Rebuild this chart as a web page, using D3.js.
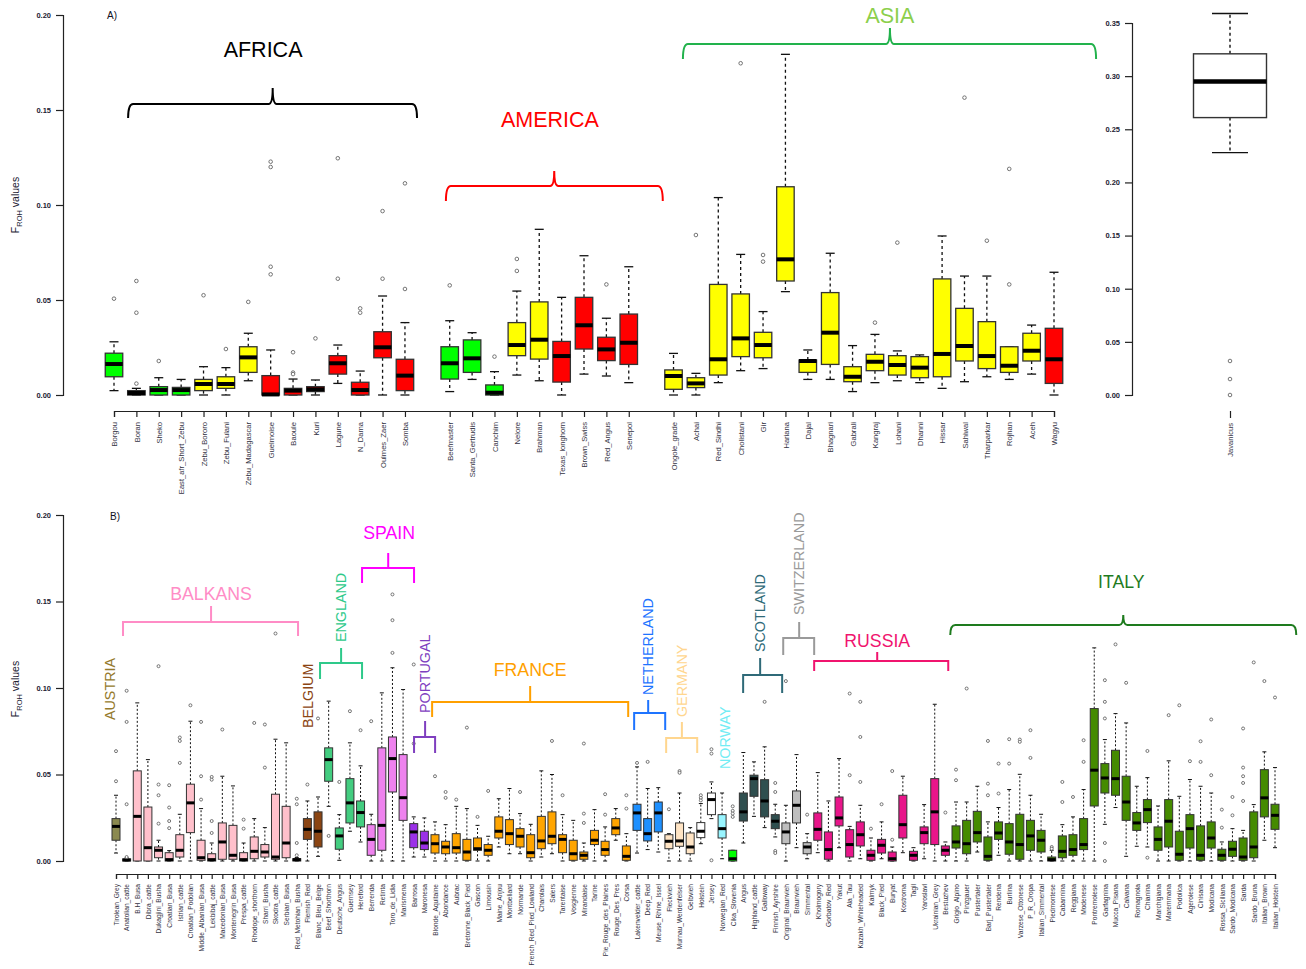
<!DOCTYPE html>
<html>
<head>
<meta charset="utf-8">
<script src="https://cdn.jsdelivr.net/npm/d3@7"></script>
<style>
  body { margin: 0; background: #fff; }
  text { font-family: "Liberation Sans", Arial, Helvetica, sans-serif; }
</style>
</head>
<body>
<svg id="fig" width="1306" height="969"></svg>
<script>
// ---------------- Panel A: world breeds ----------------
const regionsA = ["AFRICA", "AMERICA", "ASIA"];
const regionSizesA = [14, 9, 18];
const breedsA = ["Borgou","Boran","Sheko","East_afr_Short_Zebu","Zebu_Bororo","Zebu_Fulani","Zebu_Madagascar","Guelmoise","Baoule","Kuri","Lagune","N_Dama","Oulmes_Zaer","Somba",
  "Beefmaster","Santa_Gertrudis","Canchim","Nelore","Brahman","Texas_longhorn","Brown_Swiss","Red_Angus","Senepol",
  "Ongole_grade","Achai","Red_Sindhi","Cholistani","Gir","Hariana","Dajal","Bhagnari","Gabrali","Kangraj","Lohani","Dhanni","Hissar","Sahiwal","Tharparkar","Rojhan","Aceh","Wagyu"];
// ancestry class of each breed: t = taurine, i = indicine, c = composite, k = other
const classA = ["c","k","c","c","i","i","i","t","t","t","t","t","t","t",
  "c","c","c","i","i","t","t","t","t",
  "i","i","i","i","i","i","i","i","i","i","i","i","i","i","i","i","i","t"];
// five-number summaries: [lower whisker, Q1, median, Q3, upper whisker]
const statsA = [
  [0.0023,0.0096,0.0163,0.022,0.028],[0,0,0.001,0.0023,0.0035],[0,0,0.0026,0.0044,0.0091],[0,0,0.0026,0.004,0.0082],
  [0,0.0023,0.0058,0.0082,0.0149],[0,0.0035,0.0058,0.0096,0.0144],[0.0075,0.0119,0.0198,0.0254,0.0325],[0,0,0.0003,0.0102,0.0237],
  [0,0,0.0023,0.0035,0.0084],[0,0.0018,0.003,0.0044,0.0079],[0.0061,0.011,0.0167,0.0207,0.0263],[0,0,0.0026,0.0067,0.0126],
  [0,0.0196,0.0251,0.0333,0.0521],[0,0.0023,0.0102,0.0188,0.0381],
  [0.0018,0.0084,0.0167,0.0254,0.0391],[0.0082,0.0119,0.0193,0.029,0.0328],[0,0,0.0012,0.0053,0.0123],[0.0105,0.0207,0.0263,0.0381,0.0547],
  [0.0075,0.0189,0.0291,0.049,0.0872],[0,0.0068,0.0205,0.0282,0.0514],[0.011,0.0242,0.0367,0.0514,0.0733],[0.01,0.0181,0.024,0.0304,0.0404],
  [0.0065,0.0161,0.0275,0.0426,0.0675],
  [0,0.003,0.01,0.0132,0.0219],[0,0.0039,0.0061,0.0091,0.0114],[0.0065,0.0105,0.0188,0.0582,0.1039],[0.0128,0.0202,0.0298,0.0532,0.074],
  [0.0139,0.0196,0.0263,0.033,0.0439],[0.0544,0.06,0.0714,0.1096,0.1793],[0.0082,0.0119,0.0179,0.0184,0.0237],[0.0082,0.0161,0.0328,0.0539,0.0746],
  [0.0018,0.007,0.0096,0.0149,0.026],[0.0065,0.0128,0.0175,0.0214,0.0319],[0.0075,0.0105,0.0158,0.0207,0.0232],[0.0065,0.0091,0.0144,0.0202,0.0211],
  [0.0035,0.0096,0.0216,0.0611,0.0837],[0.007,0.0179,0.0258,0.0456,0.0626],[0.0096,0.0139,0.0205,0.0386,0.0626],[0.0082,0.0119,0.0154,0.0254,0.0254],
  [0.011,0.0179,0.0233,0.0325,0.0368],[0,0.0061,0.0188,0.0351,0.0646]
];
const outliersA = [
  [0.0507],[0.06,0.0433,0.006],[0.0179],[],[0.0525],[0.0242],[0.049],[0.1228,0.120,0.0675,0.0635],[0.0225,0.0118,0.011],[0.0298],
  [0.1246,0.0612],[0.0456,0.0433],[0.0968,0.0612],[0.1114,0.0558],
  [0.0577],[],[0.0202],[0.0716,0.0653],[],[],[],[0.0582],[],
  [],[0.0842],[],[0.1746],[0.0737,0.0702],[],[],[],[],[0.0381],[0.0802],[],[],[0.1565],[0.0812],[0.119,0.0582],[],[]
];
// Bos javanicus, plotted on its own scale
const outgroupName = "Javanicus";
const outgroupStats = [0.228, 0.261, 0.295, 0.321, 0.359];
const outgroupOutliers = [0.032, 0.015, 0.0];

// ---------------- Panel B: European breeds ----------------
const breedsB = ["Tirolean_Grey","Anatolian_cattle","B.H_Busa","Dibra_cattle","Dukagjini_Busha","Croatian_Busa","Istrian_cattle","Croatian_Podolian",
  "Middle_Albanian_Busa","Lekbibaj_cattle","Macedonian_Busa","Montenegrin_Busa","Prespa_cattle","Rhodope_shorthorn","Sharri_Busha","Skodra_cattle",
  "Serbian_Busa","Red_Metohian_Busha","Flemish_Red","Blanc_Bleu_Belge","Beef_Shorthorn","Deutsche_Angus","Guernsey","Hereford","Berrenda",
  "Retinta","Toro_de_Lidia","Marismena","Barrosa","Maronesa","Blonde_Aquitaine","Abondance","Aubrac","Bretonne_Black_Pied","Gascon","Limousin",
  "Maine_Anjou","Montbeliard","Normande","French_Red_Pied_Lowland","Charolais","Salers","Tarentaise","Vosgienne","Mirandaise","Tarine",
  "Pie_Rouge_des_Plaines","Rouge_Des_Pres","Corsa","Lakenvelder_cattle","Deep_Red","Meuse_Rhine_Issel","Fleckvieh","Murnau_Werdenfelser",
  "Gelbvieh","Holstein","Jersey","Norwegian_Red","Cika_Slovenia","Angus","Highland_cattle","Galloway","Finnish_Ayrshire","Original_Braunvieh",
  "Braunvieh","Simmental","Kholmogory","Gorbatov_Red","Yakut","Ala_Tau","Kazakh_Whiteheaded","Kalmyk","Black_Pied","Buryat","Kostroma","Tagil",
  "Yaroslavl","Ukrainian_Grey","Bestuzhev","Grigio_Alpino","Pinzgauer","Pustertaler","Barj_Pustertaler","Rendena","Burlina","Varzese_Ottonese",
  "P_R_Oropa","Italian_Simmental","Piedmontese","Cabannina","Reggiana","Modenese","Pontremolese","Garfagnina","Mucca_Pisana","Calvana",
  "Romagnola","Chianina","Marchigiana","Maremmana","Podolica","Agerolese","Cinisara","Modicana","Rossa_Siciliana","Sardo_Modicana","Sarda",
  "Sardo_Bruna","Italian_Brown","Italian_Holstein"];
const countryB = ["AUT",
  "BAL","BAL","BAL","BAL","BAL","BAL","BAL","BAL","BAL","BAL","BAL","BAL","BAL","BAL","BAL","BAL","BAL",
  "BEL","BEL","ENG","ENG","ENG","ENG","ESP","ESP","ESP","ESP","POR","POR",
  "FRA","FRA","FRA","FRA","FRA","FRA","FRA","FRA","FRA","FRA","FRA","FRA","FRA","FRA","FRA","FRA","FRA","FRA","FRA",
  "NLD","NLD","NLD","DEU","DEU","DEU","DAIRY","DAIRY","NOR","SVN","SCO","SCO","SCO","SCO","CHE","CHE","CHE",
  "RUS","RUS","RUS","RUS","RUS","RUS","RUS","RUS","RUS","RUS","RUS","RUS","RUS",
  "ITA","ITA","ITA","ITA","ITA","ITA","ITA","ITA","ITA","ITA","ITA","ITA","ITA","ITA","ITA","ITA",
  "ITA","ITA","ITA","ITA","ITA","ITA","ITA","ITA","ITA","ITA","ITA","ITA","ITA","ITA","ITA"];
const statsB = [
  [0.0046,0.012,0.020,0.0245,0.038],[0,0,0.0006,0.0012,0.0018],[0,0,0.0258,0.0521,0.0914],[0,0,0.0077,0.0312,0.0586],
  [0,0.0019,0.0062,0.0081,0.012],[0,0,0.0008,0.0048,0.006],[0,0.0023,0.0062,0.0152,0.027],[0,0.0164,0.0336,0.0444,0.0808],
  [0,0.0004,0.0019,0.012,0.0303],[0,0,0.0008,0.0042,0.0104],[0,0.001,0.011,0.022,0.049],[0,0.001,0.0033,0.0206,0.0434],
  [0,0,0.0008,0.0048,0.0104],[0,0.0013,0.0056,0.0139,0.0245],[0,0.0023,0.0052,0.0095,0.0193],[0,0.001,0.0023,0.0386,0.0704],
  [0,0.0019,0.0104,0.0316,0.0683],[0,0,0.0008,0.0013,0.002],[0,0.0125,0.0183,0.0245,0.0347],[0.0027,0.0081,0.0172,0.0284,0.037],
  [0.0316,0.0461,0.0586,0.0654,0.0924],[0.0004,0.0068,0.0145,0.0191,0.0268],[0.0172,0.022,0.0336,0.0476,0.0683],[0.011,0.0197,0.028,0.0347,0.055],
  [0,0.0033,0.0125,0.021,0.027],[0,0.0062,0.0206,0.0654,0.0972],[0,0.0399,0.0592,0.0717,0.1117],[0,0.0235,0.0366,0.0615,0.0991],
  [0.0023,0.0077,0.0168,0.0216,0.0255],[0.0023,0.0066,0.0104,0.0172,0.0249],[0,0.0046,0.01,0.0152,0.0226],[0,0.0042,0.0081,0.0114,0.021],
  [0,0.0046,0.0077,0.0158,0.0316],[0,0.0004,0.0052,0.0125,0.0303],[0,0.0062,0.0071,0.0133,0.0206],[0,0.0033,0.0062,0.0095,0.0143],
  [0.0081,0.0133,0.0172,0.0255,0.036],[0.0042,0.0095,0.0158,0.0239,0.0419],[0.0042,0.0081,0.0143,0.0187,0.0274],[0,0.0019,0.0048,0.0152,0.0212],
  [0.0023,0.0071,0.0116,0.0258,0.0521],[0.0042,0.01,0.0143,0.0284,0.05],[0,0.0048,0.0125,0.0152,0.0268],[0,0.0004,0.0042,0.012,0.0235],
  [0,0.001,0.0033,0.0052,0.0104],[0,0.0095,0.012,0.0177,0.0297],[0,0.0033,0.0066,0.0114,0.0197],[0.012,0.0152,0.0191,0.0245,0.0303],
  [0,0.0004,0.0027,0.0087,0.0158],[0.0046,0.0177,0.0278,0.0328,0.0544],[0.0066,0.0116,0.0158,0.0245,0.0419],[0.0052,0.0168,0.0278,0.0341,0.0424],
  [0,0.0071,0.0114,0.0152,0.0158],[0,0.0085,0.0116,0.022,0.0393],[0,0.0042,0.0081,0.0162,0.0193],[0.01,0.0135,0.0172,0.0222,0.0332],
  [0.0245,0.0268,0.0355,0.0393,0.0457],[0.0013,0.0133,0.0187,0.0268,0.0393],[0,0,0.0013,0.0062,0.0062],[0.0104,0.0231,0.0284,0.0393,0.0627],
  [0.0258,0.0374,0.0476,0.0496,0.0573],[0.0193,0.0255,0.0347,0.047,0.066],[0.0139,0.0187,0.023,0.0268,0.0328],[0,0.01,0.0168,0.022,0.0322],
  [0.0077,0.022,0.0322,0.0405,0.0615],[0.0013,0.0042,0.0081,0.0106,0.0158],[0.0048,0.012,0.0183,0.0278,0.0511],[0,0.001,0.0066,0.0168,0.0347],
  [0.0077,0.0203,0.0249,0.037,0.0592],[0,0.0023,0.0095,0.0181,0.02],[0.0013,0.0087,0.0152,0.0226,0.0322],[0,0.0004,0.0033,0.0062,0.0133],
  [0.0013,0.0046,0.0091,0.0125,0.0226],[0,0,0.0013,0.0052,0.0081],[0.0048,0.0133,0.021,0.038,0.049],[0,0.0004,0.0033,0.0056,0.0077],
  [0.0013,0.01,0.0164,0.0197,0.0326],[0,0.0095,0.0284,0.0476,0.0906],[0,0.0033,0.0062,0.0087,0.011],[0,0.0075,0.011,0.0203,0.0341],
  [0,0.0042,0.01,0.0235,0.0341],[0.0052,0.011,0.0164,0.0287,0.0432],[0,0.0004,0.0027,0.0139,0.0226],[0.0033,0.0125,0.0162,0.0226,0.0309],
  [0,0.0039,0.011,0.0216,0.0413],[0,0.001,0.0095,0.027,0.0501],[0,0.0062,0.0145,0.0235,0.038],[0,0.0052,0.012,0.0177,0.027],
  [0,0,0.0008,0.0023,0.0062],[0,0.0019,0.0056,0.0145,0.021],[0,0.0033,0.0066,0.0152,0.0255],[0,0.0066,0.0095,0.0245,0.0413],
  [0,0.0318,0.0525,0.0881,0.1232],[0.0212,0.0393,0.048,0.0563,0.0702],[0.0309,0.038,0.0476,0.064,0.0852],[0.0027,0.0235,0.0341,0.049,0.0798],
  [0.0085,0.0177,0.022,0.028,0.0432],[0.0081,0.0222,0.0297,0.0355,0.0482],[0,0.0062,0.0125,0.0197,0.0318],[0,0.0081,0.023,0.0355,0.0579],
  [0,0.0004,0.0039,0.0172,0.0374],[0,0.0075,0.0187,0.0268,0.0471],[0,0.0004,0.0033,0.0203,0.0432],[0,0.0075,0.0133,0.0226,0.0393],
  [0,0.0004,0.0033,0.0068,0.011],[0,0.0027,0.0068,0.0114,0.0187],[0,0.0004,0.0023,0.0133,0.0177],[0,0.0019,0.0081,0.0284,0.0326],
  [0.012,0.0255,0.0365,0.0528,0.0631],[0.0077,0.0183,0.0264,0.0328,0.054]
];
const outliersB = [
  [0.0635,0.0461],[0.0023,0.0328,0.0804,0.0984],[],[],[0.0442,0.038,0.0216,0.1126],[0.0438,0.0309,0.0231,0.019],[0.0714,0.0694,0.0567],[0.09],
  [0.0804,0.049,0.0355],[0.0486,0.047,0.0231,0.0162],[0.076],[],[0.0239,0.0187],[0.0798],[0.0789,0.054],[0.1315],
  [],[0.036,0.0328,0.0104,0.0033],[0.0442],[0.0824],[0.0145],[0.0457],[0.0866],[0.0756],
  [0.0808],[],[0.1203,0.1392,0.1541],[],[0.0679,0.1136],[],[0.049],[0.0399,0.0365],
  [0.0355],[0.0771],[0.0255],[0.0405],[],[],[0.0399],[],
  [],[0.0694],[0.038],[],[0.0679,0.0274,0.022],[],[0.0268,0.0386],[],
  [0.038,0.0303],[0.0567],[0.0573],[],[0.0299],[0.052,0.051],[],[0.038,0.0365,0.035],
  [0.0646,0.0621,0.0004],[],[0.0316,0.029,0.0274,0.0255],[],[],[0.092],[0.0451,0.0399,0.0058,0.0046],[0.104],
  [],[0.0268],[],[],[],[0.0968,0.0496],[0.092,0.0717,0.0457],[0.0187],
  [0.0328],[0.052,0.0123],[],[],[],[],[0.028],[0.0528,0.0467],
  [0.0997],[],[0.0694,0.0447,0.038],[0.0563,0.039],[0.0704,0.0563],[0.0702,0.0689],[0.0756,0.0596],[],
  [0.0081,0.0071],[0.0457,0.0341],[0.037],[0.0698,0.0573],[],[0.1045,0.092,0.0824,0.0104,0],[0.1252],[0.103],
  [],[0.0636,0.0019],[],[0.0843],[0.09],[0.0577],[0.0692,0.0573],[0.0818,0.0496],
  [0.0297,0.0193],[0.037,0.0264],[0.0766,0.054,0.049,0.0451,0.0347],[0.1148],[0.104],[0.0945]
];
const yTicksA = [0, 0.05, 0.10, 0.15, 0.20];
const yTicksJ = [0, 0.05, 0.10, 0.15, 0.20, 0.25, 0.30, 0.35];

// ---------------- styles ----------------
const classColour = { c: "#00ff00", k: "#000000", i: "#ffff00", t: "#ff0000" };
const countryFill = {
  AUT: "#8b8a50", BAL: "#ffc0cb", BEL: "#8b4513", ENG: "#43cd80", ESP: "#ee82ee", POR: "#9b30e8",
  FRA: "#ffa500", NLD: "#1e90ff", DEU: "#ffe4c4", DAIRY: "#ffffff", NOR: "#98f5ff", SVN: "#00ff00",
  SCO: "#2f4f4f", CHE: "#bebebe", RUS: "#e8168a", ITA: "#458b00"
};
const FONT = '"Liberation Sans", Arial, Helvetica, sans-serif';

const svg = d3.select("#fig");

// positions of panel A breeds: one empty slot between regions
const posA = [];
{
  let p = 0;
  regionSizesA.forEach((n, r) => { if (r > 0) p += 1; for (let k = 0; k < n; k++) { p += 1; posA.push(p); } });
}
const posB = breedsB.map((d, i) => i + 1);

const xA = d3.scaleLinear().domain([1, d3.max(posA)]).range([114, 1054]);
const yA = d3.scaleLinear().domain([0, 0.2]).range([395, 15]);
const yJ = d3.scaleLinear().domain([0, 0.35]).range([395, 23]);
const xB = d3.scaleLinear().domain([1, breedsB.length]).range([116, 1275]);
const yB = d3.scaleLinear().domain([0, 0.2]).range([861, 515]);

function drawBoxes(g, xs, ys, pos, stats, outs, fillOf, o) {
  stats.forEach((s, i) => {
    const cx = xs(pos[i]);
    const [lo, q1, md, q3, hi] = s;
    const bw = o.boxW, cw = o.capW;
    const gg = g.append("g");
    // whiskers
    gg.append("line").attr("x1", cx).attr("x2", cx).attr("y1", ys(q3)).attr("y2", ys(hi))
      .attr("stroke", "#111").attr("stroke-width", o.lw).attr("stroke-dasharray", o.dash);
    gg.append("line").attr("x1", cx).attr("x2", cx).attr("y1", ys(q1)).attr("y2", ys(lo))
      .attr("stroke", "#111").attr("stroke-width", o.lw).attr("stroke-dasharray", o.dash);
    // staples
    [lo, hi].forEach(v => gg.append("line").attr("x1", cx - cw / 2).attr("x2", cx + cw / 2)
      .attr("y1", ys(v)).attr("y2", ys(v)).attr("stroke", "#111").attr("stroke-width", o.lw));
    // box
    gg.append("rect").attr("x", cx - bw / 2).attr("width", bw)
      .attr("y", ys(q3)).attr("height", Math.max(0.01, ys(q1) - ys(q3)))
      .attr("fill", fillOf(i)).attr("stroke", "#333").attr("stroke-width", o.lw);
    // median
    gg.append("line").attr("x1", cx - bw / 2).attr("x2", cx + bw / 2)
      .attr("y1", ys(md)).attr("y2", ys(md)).attr("stroke", "#000").attr("stroke-width", o.medW);
    // outliers
    outs[i].forEach(v => gg.append("circle").attr("cx", cx).attr("cy", ys(v)).attr("r", o.r)
      .attr("fill", "#fff").attr("stroke", "#666").attr("stroke-width", 0.9));
  });
}

function yAxis(x, ys, ticks, fs) {
  const ax = d3.axisLeft(ys).tickValues(ticks).tickFormat(d3.format(".2f")).tickSizeOuter(0).tickSize(7).tickPadding(5);
  const g = svg.append("g").attr("transform", `translate(${x},0)`).call(ax);
  g.select(".domain").attr("stroke", "#222").attr("stroke-width", 1.2);
  g.selectAll(".tick line").attr("stroke", "#222").attr("stroke-width", 1.2);
  g.selectAll(".tick text").attr("fill", "#223").style("font-size", fs + "px").style("font-weight", "bold").style("font-family", FONT);
  return g;
}

function xAxis(y, xs, pos, names, fs, tick) {
  const ax = d3.axisBottom(xs).tickValues(pos).tickFormat((d, i) => names[i]).tickSizeOuter(0).tickSize(tick);
  const g = svg.append("g").attr("transform", `translate(0,${y})`).call(ax);
  g.select(".domain").attr("stroke", "#222").attr("stroke-width", 1.2);
  g.selectAll(".tick line").attr("stroke", "#222").attr("stroke-width", 1.2);
  g.selectAll(".tick text").attr("transform", "rotate(-90)").attr("x", -(tick + 5)).attr("y", 0).attr("dy", "0.35em")
    .style("text-anchor", "end").attr("fill", "#334").style("font-size", fs + "px").style("font-family", FONT);
  return g;
}

function yTitle(cx, cy) {
  const t = svg.append("text").attr("transform", `translate(${cx},${cy}) rotate(-90)`)
    .attr("text-anchor", "middle").attr("fill", "#223").style("font-size", "10.5px");
  t.append("tspan").text("F");
  t.append("tspan").attr("dy", 3).style("font-size", "7.5px").text("ROH");
  t.append("tspan").attr("dy", -3).text(" values");
}

function curlyBrace(x1, x2, xc, y0, hEnd, hTip, col, w) {
  const r = 5, p = d3.path();
  p.moveTo(x1, y0 + hEnd); p.quadraticCurveTo(x1, y0, x1 + r, y0); p.lineTo(xc - 4, y0);
  p.quadraticCurveTo(xc, y0, xc, y0 - hTip);
  p.quadraticCurveTo(xc, y0, xc + 4, y0); p.lineTo(x2 - r, y0); p.quadraticCurveTo(x2, y0, x2, y0 + hEnd);
  svg.append("path").attr("d", p.toString()).attr("fill", "none").attr("stroke", col).attr("stroke-width", w);
}

function squareBracket(x1, x2, xc, y0, yEnd, yTop, col) {
  const p = d3.path();
  p.moveTo(x1, yEnd); p.lineTo(x1, y0); p.lineTo(x2, y0); p.lineTo(x2, yEnd);
  p.moveTo(xc, y0); p.lineTo(xc, yTop);
  svg.append("path").attr("d", p.toString()).attr("fill", "none").attr("stroke", col).attr("stroke-width", 2);
}

function label(x, y, txt, col, fs, vertical) {
  const t = svg.append("text").text(txt).attr("fill", col).style("font-size", fs + "px");
  if (vertical) t.attr("transform", `translate(${x + fs * 0.36},${y}) rotate(-90)`).attr("text-anchor", "start");
  else t.attr("x", x).attr("y", y).attr("text-anchor", "middle");
}

// ================= Panel A =================
yAxis(63, yA, yTicksA, 7.5);
yTitle(19, 205);
svg.append("text").attr("x", 107).attr("y", 19).text("A)").style("font-size", "10px").attr("fill", "#112");

drawBoxes(svg.append("g"), xA, yA, posA, statsA, outliersA, i => classColour[classA[i]],
  { boxW: 17.5, capW: 9, lw: 1.3, dash: "3,3", medW: 4, r: 1.8 });
xAxis(411, xA, posA, breedsA, 7.6, 6);

// region braces and names
curlyBrace(xA(1.63), xA(14.54), xA(8.09), 104, 14, 16, "#000", 2);
label(xA(7.66), 57, regionsA[0], "#000", 21.5, false);
curlyBrace(xA(15.83), xA(25.52), xA(20.67), 186, 15, 15, "#ff0000", 2);
label(xA(20.48), 127, regionsA[1], "#ff0000", 21.5, false);
curlyBrace(xA(26.42), xA(44.88), xA(35.67), 44, 15, 16, "#22b24c", 2);
label(xA(35.67), 22.5, regionsA[2], "#8ccf4c", 21.5, false);

// outgroup on its own axis
yAxis(1132, yJ, yTicksJ, 7.5);
{
  const xJ = d3.scalePoint().domain([outgroupName]).range([1230, 1230]);
  drawBoxes(svg.append("g"), d => xJ(d), yJ, [outgroupName], [outgroupStats], [outgroupOutliers], () => "#fff",
    { boxW: 73, capW: 36, lw: 1.4, dash: "3,3", medW: 4.5, r: 1.8 });
  const ax = d3.axisBottom(xJ).tickSize(7).tickSizeOuter(0);
  const g = svg.append("g").attr("transform", "translate(0,411)").call(ax);
  g.select(".domain").remove();
  g.selectAll(".tick line").attr("stroke", "#222").attr("stroke-width", 1.2);
  g.selectAll(".tick text").attr("transform", "rotate(-90)").attr("x", -12).attr("y", 0).attr("dy", "0.35em")
    .style("text-anchor", "end").attr("fill", "#334").style("font-size", "7.6px").style("font-family", FONT);
}

// ================= Panel B =================
yAxis(63, yB, yTicksA, 7.5);
yTitle(19, 689);
svg.append("text").attr("x", 110).attr("y", 520).text("B)").style("font-size", "10px").attr("fill", "#112");

drawBoxes(svg.append("g"), xB, yB, posB, statsB, outliersB, i => countryFill[countryB[i]],
  { boxW: 8, capW: 4, lw: 1, dash: "2,2", medW: 3, r: 1.5 });
xAxis(874, xB, posB, breedsB, 6.6, 5);

// country groupings
const groupText = {
  AUT: "#957a2c", BAL: "#ff8cc6", BEL: "#8b4513", ENG: "#2ec98a", ESP: "#ff00ff", POR: "#7f3fbf",
  FRA: "#ffa000", NLD: "#1e74ff", DEU: "#ffd68f", NOR: "#72ecf4", SCO: "#2f6a78", CHE: "#9a9a9a",
  RUS: "#f0146e", ITA: "#1e7b1e"
};
const brackets = [
  { t: "BALKANS", k: "BAL", a: 1.66, b: 18.12, c: 9.94, y0: 622, yEnd: 636, yTop: 606, tx: 9.94, ty: 600, v: false },
  { t: "ENGLAND", k: "ENG", a: 20.19, b: 24.14, c: 22.17, y0: 663, yEnd: 679, yTop: 648, tx: 22.17, ty: 642, v: true },
  { t: "SPAIN", k: "ESP", a: 24.14, b: 29.03, c: 26.6, y0: 568, yEnd: 583, yTop: 553, tx: 26.68, ty: 539, v: false },
  { t: "PORTUGAL", k: "POR", a: 29.03, b: 31.01, c: 30.07, y0: 737, yEnd: 753, yTop: 721, tx: 30.07, ty: 713, v: true },
  { t: "FRANCE", k: "FRA", a: 30.73, b: 49.17, c: 39.95, y0: 702, yEnd: 717, yTop: 686, tx: 39.95, ty: 676, v: false },
  { t: "NETHERLAND", k: "NLD", a: 49.73, b: 52.65, c: 51.05, y0: 713, yEnd: 730, yTop: 700, tx: 51.05, ty: 695, v: true },
  { t: "GERMANY", k: "DEU", a: 52.74, b: 55.66, c: 54.22, y0: 738, yEnd: 753, yTop: 722, tx: 54.22, ty: 717, v: true },
  { t: "SCOTLAND", k: "SCO", a: 59.98, b: 63.65, c: 61.58, y0: 675, yEnd: 693, yTop: 658, tx: 61.58, ty: 652, v: true },
  { t: "SWITZERLAND", k: "CHE", a: 63.75, b: 66.66, c: 65.25, y0: 638, yEnd: 655, yTop: 622, tx: 65.25, ty: 615, v: true },
  { t: "RUSSIA", k: "RUS", a: 66.66, b: 79.27, c: 72.59, y0: 661, yEnd: 671, yTop: 652, tx: 72.59, ty: 647, v: false }
];
brackets.forEach(d => {
  squareBracket(xB(d.a), xB(d.b), xB(d.c), d.y0, d.yEnd, d.yTop, groupText[d.k]);
  label(xB(d.tx), d.ty, d.t, groupText[d.k], d.v ? 14.3 : 17.7, d.v);
});
curlyBrace(xB(79.46), xB(112.0), xB(95.73), 625, 10, 10, groupText.ITA, 2);
label(xB(95.55), 588, "ITALY", groupText.ITA, 17.7, false);
label(xB(0.44), 720, "AUSTRIA", groupText.AUT, 14.3, true);
label(xB(19.06), 728, "BELGIUM", groupText.BEL, 14.3, true);
label(xB(58.29), 769, "NORWAY", groupText.NOR, 14.3, true);
</script>
</body>
</html>
